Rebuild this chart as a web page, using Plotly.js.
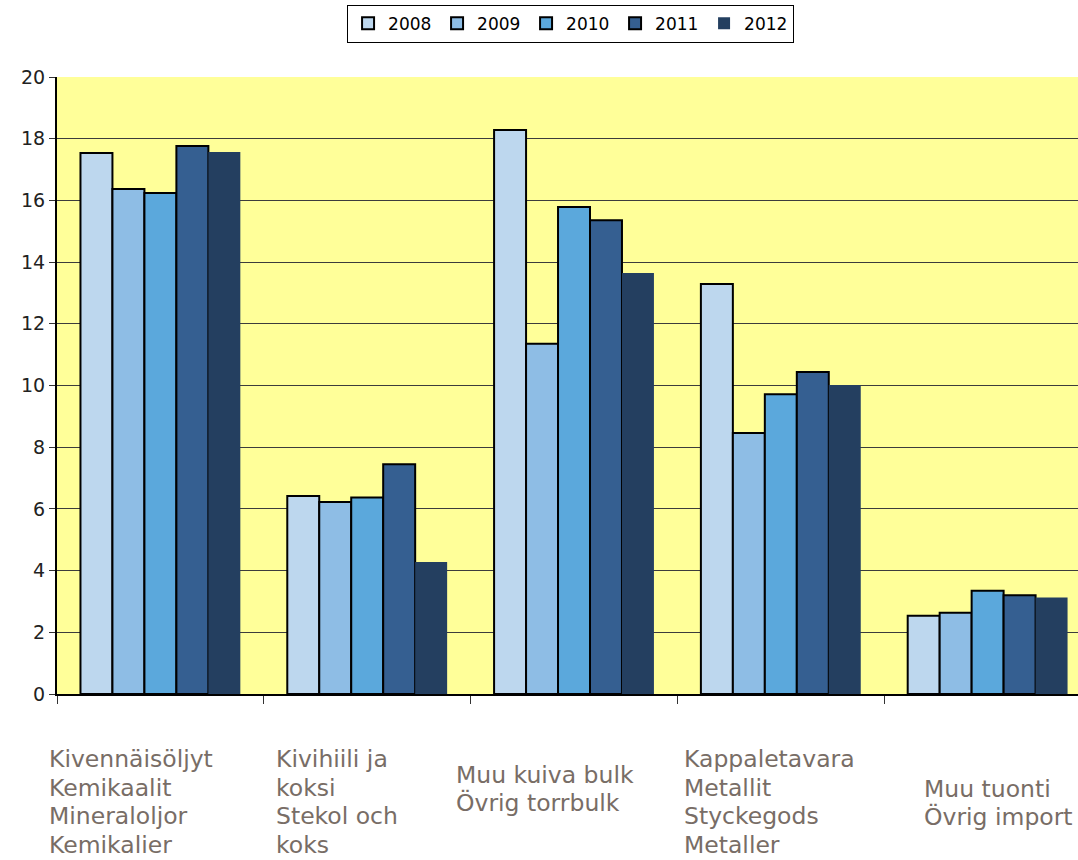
<!DOCTYPE html>
<html>
<head>
<meta charset="utf-8">
<script src="https://cdn.plot.ly/plotly-3.0.1.min.js"></script>
<style>html,body{margin:0;padding:0;background:#fff;}#chart{width:1078px;height:860px;}</style>
</head>
<body>
<div id="chart"></div>
<script>
// Category labels (multi-line, Finnish / Swedish)
const categoryLines = [
  ["Kivennäisöljyt", "Kemikaalit", "Mineraloljor", "Kemikalier"],
  ["Kivihiili ja", "koksi", "Stekol och", "koks"],
  ["Muu kuiva bulk", "Övrig torrbulk"],
  ["Kappaletavara", "Metallit", "Styckegods", "Metaller"],
  ["Muu tuonti", "Övrig import"]
];
const categoryPos = [0, 1, 2, 3, 4];
const years = ["2008", "2009", "2010", "2011", "2012"];

const v2008 = [17.54, 6.42, 18.28, 13.29, 2.54];
const v2009 = [16.37, 6.22, 11.35, 8.46, 2.63];
const v2010 = [16.24, 6.37, 15.79, 9.72, 3.35];
const v2011 = [17.76, 7.45, 15.36, 10.44, 3.20];
const v2012 = [17.57, 4.28, 13.65, 10.02, 3.13];
const series = [v2008, v2009, v2010, v2011, v2012];

const colors = ["#BDD7EE", "#8EBDE5", "#5BA8DC", "#355F91", "#243F60"];
const lineW = [2, 2, 2, 2, 0];

const traces = series.map((vals, i) => ({
  type: "bar",
  name: years[i],
  x: categoryPos,
  y: vals,
  marker: { color: colors[i], line: { color: "#000", width: lineW[i] } },
  hoverinfo: "y+name"
}));

// label placement (layout only, pixel positions converted to paper coords)
const plotLeft = 57, plotW = 1021;
const labelLeftPx = [47, 274, 454, 682, 922];
const labelCenterPx = [802, 802, 789, 802, 803];
const plotTop = 77, plotBottom = 694, lineStep = 28.5;
const annotations = [];
categoryLines.forEach((lines, c) => {
  lines.forEach((t, j) => {
    const py = labelCenterPx[c] + (j - (lines.length - 1) / 2) * lineStep;
    annotations.push({
      text: t, showarrow: false, xref: "paper", yref: "paper",
      x: (labelLeftPx[c] - plotLeft) / plotW, y: (plotBottom - py) / (plotBottom - plotTop),
      xanchor: "left", yanchor: "middle",
      font: { family: "DejaVu Sans", size: 23.5, color: "#786d66" }
    });
  });
});

const layout = {
  width: 1078, height: 860,
  margin: { l: 57, r: 0, t: 77, b: 166, pad: 0 },
  paper_bgcolor: "#ffffff",
  plot_bgcolor: "#FFFF99",
  barmode: "group",
  bargap: 0.227,
  bargroupgap: 0,
  showlegend: true,
  legend: {
    orientation: "h",
    x: 0.503, xanchor: "center",
    y: 1.117, yanchor: "top",
    bgcolor: "#fff",
    bordercolor: "#000", borderwidth: 1,
    font: { family: "DejaVu Sans", size: 17, color: "#000" },
    traceorder: "normal",
    itemwidth: 30,
    entrywidth: 44, entrywidthmode: "pixels"
  },
  xaxis: {
    range: [-0.5, 4.437],
    tickvals: [-0.5, 0.5, 1.5, 2.5, 3.5],
    ticktext: ["", "", "", "", ""],
    ticks: "outside", ticklen: 8, tickcolor: "#333", tickwidth: 1,
    showgrid: false, zeroline: false,
    showline: true, linecolor: "#000", linewidth: 2,
    fixedrange: true
  },
  yaxis: {
    range: [0, 20],
    tickvals: [0, 2, 4, 6, 8, 10, 12, 14, 16, 18, 20],
    ticks: "outside", ticklen: 6, tickcolor: "#333", tickwidth: 1,
    showgrid: true, gridcolor: "#3c3c3c", gridwidth: 1,
    zeroline: false,
    showline: true, linecolor: "#000", linewidth: 2,
    tickfont: { family: "DejaVu Sans", size: 19, color: "#222" },
    fixedrange: true
  },
  annotations: annotations
};

Plotly.newPlot("chart", traces, layout, { displayModeBar: false, staticPlot: true });
</script>
</body>
</html>
